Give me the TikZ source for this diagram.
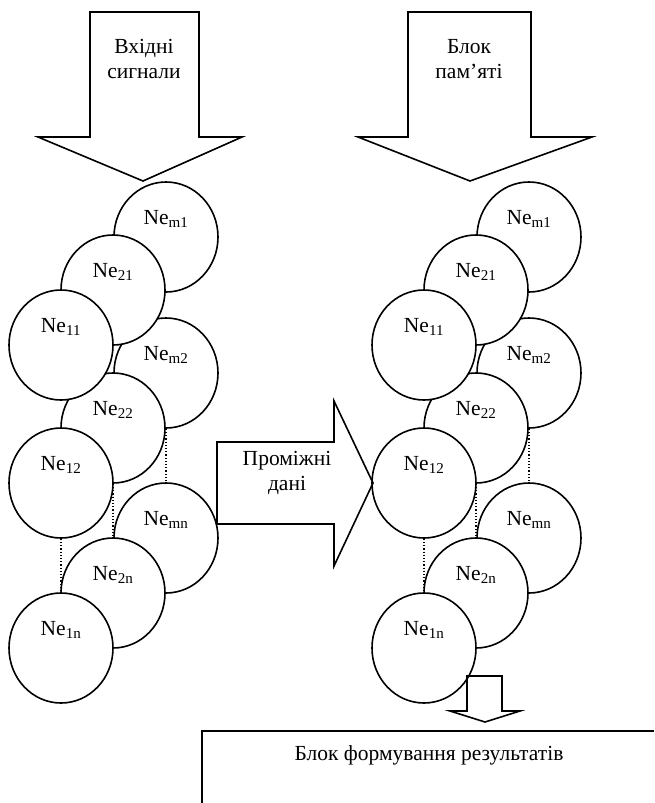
\documentclass[tikz,border=0pt]{standalone}
\usepackage{fontspec}
\setmainfont{Liberation Serif}
\usetikzlibrary{shapes.geometric}
\newcommand{\ner}[1]{Ne\textsubscript{#1}}

\begin{document}
\begin{tikzpicture}[x=1pt,y=-1pt,line width=1.6pt,
  font=\fontsize{21.5}{25}\selectfont,
  cell/.style={ellipse,draw,fill=white,minimum width=104pt,minimum height=110pt,inner sep=0pt},
  dotline/.style={line width=1.2pt,dash pattern=on 1.2pt off 2pt}]
  \useasboundingbox (0,0) rectangle (654,803);
  \node[cell] (am1) at (166,237) {};
  \node[cell] (am2) at (166,373) {};
  \node[cell] (amn) at (166,538) {};
  \node[cell] (a21) at (113,290) {};
  \node[cell] (a22) at (113,428) {};
  \node[cell] (a2n) at (113,593) {};
  \node[cell] (a11) at ( 61,345) {};
  \node[cell] (a12) at ( 61,483) {};
  \node[cell] (a1n) at ( 61,648) {};
  \node[cell] (bm1) at (529,237) {};
  \node[cell] (bm2) at (529,373) {};
  \node[cell] (bmn) at (529,538) {};
  \node[cell] (b21) at (476,290) {};
  \node[cell] (b22) at (476,428) {};
  \node[cell] (b2n) at (476,593) {};
  \node[cell] (b11) at (424,345) {};
  \node[cell] (b12) at (424,483) {};
  \node[cell] (b1n) at (424,648) {};
  \draw (am1) ++(0,-18) node{\ner{m1}};
  \draw (am2) ++(0,-18) node{\ner{m2}};
  \draw (amn) ++(0,-18) node{\ner{mn}};
  \draw (a21) ++(0,-18) node{\ner{21}};
  \draw (a22) ++(0,-18) node{\ner{22}};
  \draw (a2n) ++(0,-18) node{\ner{2n}};
  \draw (a11) ++(0,-18) node{\ner{11}};
  \draw (a12) ++(0,-18) node{\ner{12}};
  \draw (a1n) ++(0,-18) node{\ner{1n}};
  \draw (bm1) ++(0,-18) node{\ner{m1}};
  \draw (bm2) ++(0,-18) node{\ner{m2}};
  \draw (bmn) ++(0,-18) node{\ner{mn}};
  \draw (b21) ++(0,-18) node{\ner{21}};
  \draw (b22) ++(0,-18) node{\ner{22}};
  \draw (b2n) ++(0,-18) node{\ner{2n}};
  \draw (b11) ++(0,-18) node{\ner{11}};
  \draw (b12) ++(0,-18) node{\ner{12}};
  \draw (b1n) ++(0,-18) node{\ner{1n}};
  \draw[dotline] (a12.south) -- (a1n.north);
  \draw[dotline] (a22.south) -- (a2n.north);
  \draw[dotline] (am2.south) -- (amn.north);
  \draw[dotline] (b12.south) -- (b1n.north);
  \draw[dotline] (b22.south) -- (b2n.north);
  \draw[dotline] (bm2.south) -- (bmn.north);
  \draw (  90, 12) -- ( 199, 12) -- ( 199,137) -- ( 242,137) -- ( 143,181) -- (  38,137) -- (  90,137) -- cycle;
  \draw ( 408, 12) -- ( 531, 12) -- ( 531,137) -- ( 592,137) -- ( 470,181) -- ( 358,137) -- ( 408,137) -- cycle;
  \draw ( 217,442) -- ( 334,442) -- ( 334,401) -- ( 373,483) -- ( 334,566) -- ( 334,524) -- ( 217,524) -- cycle;
  \draw ( 467,676) -- ( 502,676) -- ( 502,711) -- ( 520,711) -- ( 485,722) -- ( 450,711) -- ( 467,711) -- cycle;
  \draw ( 202,803) -- ( 202,731) -- ( 654,731);
  \node[align=center] (insig) at (144,59) {Вхідні\\сигнали};
  \node[align=center] (mem) at (469,59) {Блок\\пам’яті};
  \node[align=center] (mid) at (287,473) {Проміжні\\дані};
  \node (res) at (429,755) {Блок формування результатів};
\end{tikzpicture}
\end{document}
